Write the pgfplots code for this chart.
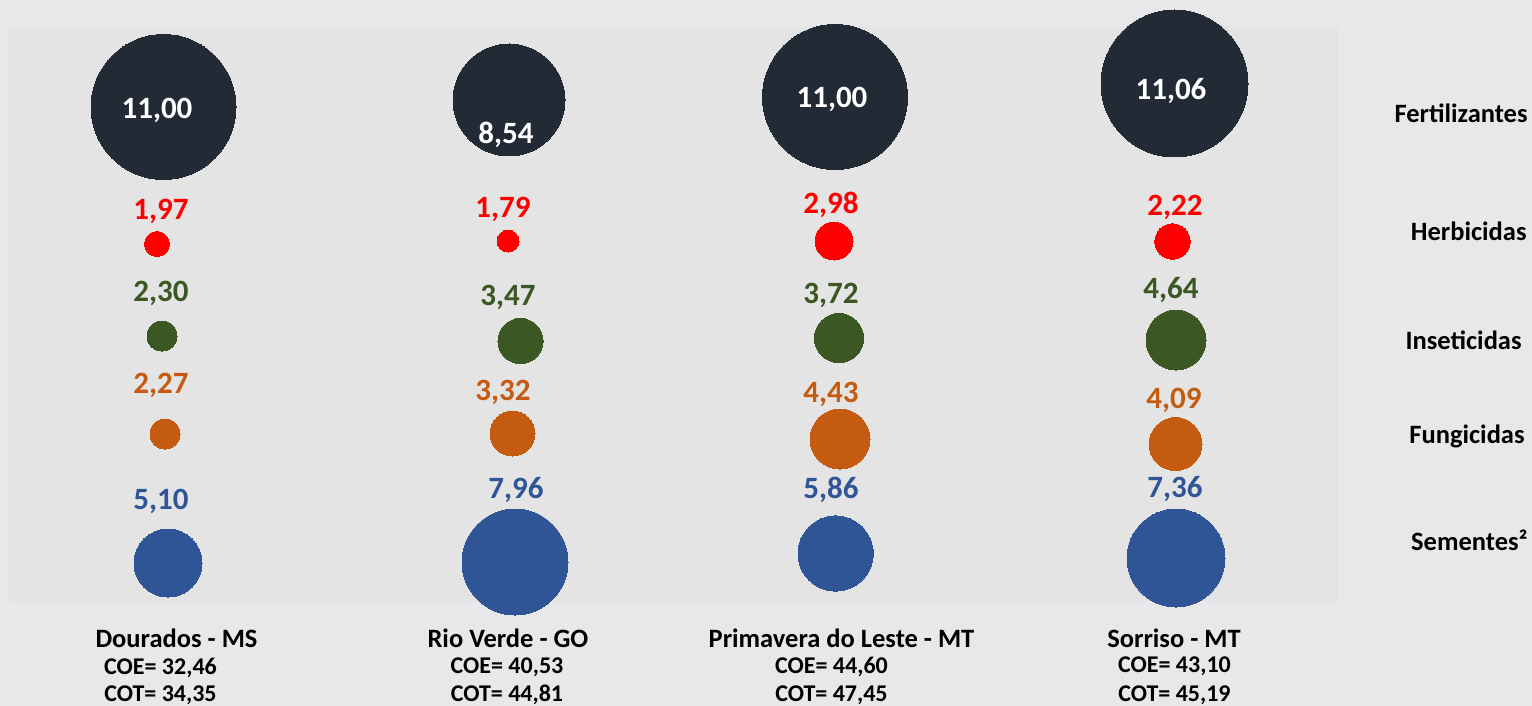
\documentclass[border=0pt]{standalone}
\usepackage{fontspec}
\setmainfont{Carlito}
\usepackage{pgfplots}
\usepackage{pgfplotstable}
\pgfplotsset{compat=1.18}
\definecolor{bgout}{HTML}{E8E7E9}
\definecolor{bgin}{HTML}{E4E4E4}
\definecolor{cfert}{HTML}{222A35}
\definecolor{cherb}{HTML}{FF0000}
\definecolor{cins}{HTML}{3A5724}
\definecolor{cfung}{HTML}{C55A11}
\definecolor{csem}{HTML}{2F5597}

% x, y = bubble centre; r = bubble radius; lx, ly = value label position
\pgfplotstableread{
x      y     r     lx    ly   lab
163.5  107   72.5  157   108  11,00
509    100   56    506   133  8,54
835    97    72.5  832   97   11,00
1174.5 83.5  73.5  1171  89   11,06
}\fert
\pgfplotstableread{
x      y     r     lx    ly   lab
157    244   12.5  161   209  1,97
508    241   11    503   207  1,79
834    241   19    831   203  2,98
1172.5 241.5 17.7  1175  205  2,22
}\herb
\pgfplotstableread{
x      y     r     lx    ly   lab
162    336   15    161   291  2,30
520.5  341   22.6  508   295  3,47
839    338   24.6  831   293  3,72
1176   340   30    1171  288  4,64
}\ins
\pgfplotstableread{
x      y     r     lx    ly   lab
165    434   15    161   383  2,27
512.5  433.5 22.5  503   390  3,32
840    439   30    831   392  4,43
1175.5 444   26.5  1174  398  4,09
}\fung
\pgfplotstableread{
x      y     r     lx    ly   lab
168    563   34    161   499  5,10
515    562   53    516   488  7,96
835.6  553.5 37.6  831   488  5,86
1176   558   49    1175  487  7,36
}\sem

\begin{document}
\begin{tikzpicture}[
  catlab/.style={text=black, text depth=0pt, inner sep=0pt,
      font=\fontsize{13.25}{16}\selectfont\bfseries},
  coelab/.style={text=black, text depth=0pt, inner sep=0pt,
      font=\fontsize{12}{14}\selectfont\bfseries},
]
\begin{axis}[
  scale only axis, width=766pt, height=353pt,
  xmin=0, xmax=1532, ymin=0, ymax=706, y dir=reverse,
  axis lines=none, ticks=none, clip=false,
  bubble/.style={scatter, only marks, mark=*,
    mark options={line width=0pt},
    visualization depends on={\thisrow{r} \as \bubR},
    scatter/use mapped color={draw=#1, fill=#1},
    scatter/@pre marker code/.append style={/tikz/mark size=0.5*\bubR}},
  vlab/.style={only marks, mark=none, point meta=explicit symbolic,
    nodes near coords,
    every node near coord/.append style={anchor=center, text=#1,
      text depth=0pt, inner sep=0pt,
      font=\fontsize{15.5}{18}\selectfont\bfseries}},
]
\fill[bgout] (axis cs:0,0) rectangle (axis cs:1532,706);
\fill[bgin] (axis cs:9,26) rectangle (axis cs:1338,602);

\addplot[bubble=cfert] table[x=x,y=y] {\fert};
\addplot[bubble=cherb] table[x=x,y=y] {\herb};
\addplot[bubble=cins]  table[x=x,y=y] {\ins};
\addplot[bubble=cfung] table[x=x,y=y] {\fung};
\addplot[bubble=csem]  table[x=x,y=y] {\sem};

\addplot[vlab=white] table[x=lx,y=ly,meta=lab] {\fert};
\addplot[vlab=cherb] table[x=lx,y=ly,meta=lab] {\herb};
\addplot[vlab=cins]  table[x=lx,y=ly,meta=lab] {\ins};
\addplot[vlab=cfung] table[x=lx,y=ly,meta=lab] {\fung};
\addplot[vlab=csem]  table[x=lx,y=ly,meta=lab] {\sem};

\node[catlab, anchor=east] at (axis cs:1528,113) {Fertilizantes};
\node[catlab, anchor=east] at (axis cs:1527,231) {Herbicidas};
\node[catlab, anchor=east] at (axis cs:1522,340) {Inseticidas};
\node[catlab, anchor=east] at (axis cs:1525,434) {Fungicidas};
\node[catlab, anchor=east] at (axis cs:1528,540) {Sementes²};

\node[catlab] at (axis cs:176.5,638) {Dourados - MS};
\node[coelab] at (axis cs:160.5,666) {COE= 32,46};
\node[coelab] at (axis cs:160.5,693.5) {COT= 34,35};
\node[catlab] at (axis cs:508,638) {Rio Verde - GO};
\node[coelab] at (axis cs:507,666) {COE= 40,53};
\node[coelab] at (axis cs:507,693.5) {COT= 44,81};
\node[catlab] at (axis cs:841.5,638) {Primavera do Leste - MT};
\node[coelab] at (axis cs:831.5,665) {COE= 44,60};
\node[coelab] at (axis cs:831.5,693.5) {COT= 47,45};
\node[catlab] at (axis cs:1174,638) {Sorriso - MT};
\node[coelab] at (axis cs:1174.5,665) {COE= 43,10};
\node[coelab] at (axis cs:1174.5,693.5) {COT= 45,19};
\end{axis}
\end{tikzpicture}
\end{document}
